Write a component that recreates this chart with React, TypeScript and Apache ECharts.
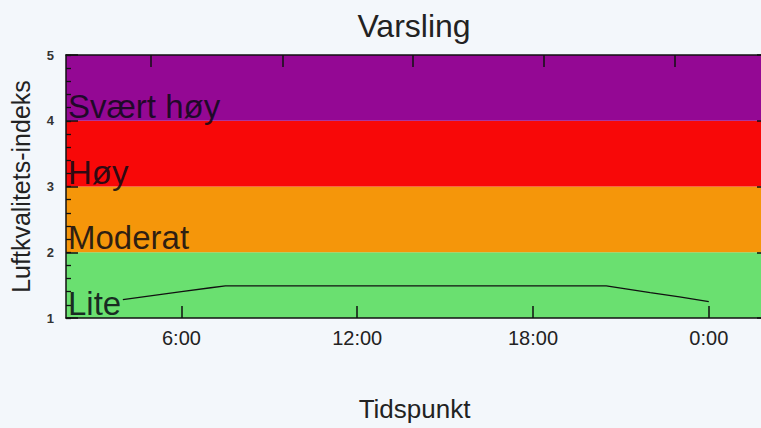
import React, { useEffect, useRef } from "react";
import * as echarts from "echarts";

// Data
const hours = [4, 5, 6, 7, 7.5, 8, 9, 10, 11, 12, 13, 14, 15, 16, 17, 18, 19, 20, 20.5, 21, 22, 23, 24];
const aqi = [1.28, 1.34, 1.4, 1.46, 1.49, 1.49, 1.49, 1.49, 1.49, 1.49, 1.49, 1.49, 1.49, 1.49, 1.49, 1.49, 1.49, 1.49, 1.49, 1.456, 1.387, 1.32, 1.25];

const bandLabels = ["Lite", "Moderat", "Høy", "Svært høy"];
const bandLower = [1, 2, 3, 4];
const bandUpper = [2, 3, 4, 5];
const bandColors = ["#6ae070", "#f5960a", "#f80808", "#940894"];

const xTickHours = [6, 12, 18, 24];
const topTickHours = [4.94, 9.45, 13.91, 18.37, 22.85];
const xMin = 2.06;
const xMax = 25.85;

const fmtHour = (v: number) => `${Math.round(v) % 24}:00`;

export default function App() {
  const ref = useRef<HTMLDivElement>(null);
  useEffect(() => {
    if (!ref.current) return;
    const chart = echarts.init(ref.current, undefined, { renderer: "svg" });
    const font = "'Liberation Sans', Arial, sans-serif";
    chart.setOption({
      animation: false,
      backgroundColor: "#f3f7fb",
      textStyle: { fontFamily: font },
      title: {
        text: "Varsling",
        left: "center",
        top: 5,
        textStyle: { fontSize: 32, fontWeight: "normal", color: "#222", fontFamily: font },
      },
      grid: { left: 61, top: 55, width: 702, height: 263 },
      xAxis: [
        {
          type: "value",
          min: xMin,
          max: xMax,
          position: "bottom",
          z: 10,
          name: "Tidspunkt",
          nameLocation: "middle",
          nameGap: 78,
          nameTextStyle: { fontSize: 26, color: "#222", fontFamily: font },
          axisLine: { show: true, lineStyle: { color: "#111", width: 1.5 } },
          axisTick: { show: true, inside: true, length: 12, customValues: xTickHours, lineStyle: { color: "#111", width: 1.5 } },
          axisLabel: { customValues: xTickHours, formatter: fmtHour, fontSize: 20, color: "#222", margin: 10, fontFamily: font },
          splitLine: { show: false },
        },
        {
          type: "value",
          min: xMin,
          max: xMax,
          position: "top",
          z: 10,
          axisLine: { show: true, onZero: false, lineStyle: { color: "#111", width: 1.5 } },
          axisTick: { show: true, inside: true, length: 12, customValues: topTickHours, lineStyle: { color: "#111", width: 1.5 } },
          axisLabel: { show: false },
          splitLine: { show: false },
        },
      ],
      yAxis: [
        {
          type: "value",
          min: 1,
          max: 5,
          interval: 1,
          position: "left",
          z: 10,
          name: "Luftkvalitets-indeks",
          nameLocation: "middle",
          nameGap: 33,
          nameTextStyle: { fontSize: 25, color: "#222", fontFamily: font },
          axisLine: { show: true, onZero: false, lineStyle: { color: "#111", width: 1.5 } },
          axisTick: { show: true, inside: true, length: 12, lineStyle: { color: "#111", width: 1.5 } },
          axisLabel: { fontSize: 13, fontWeight: "bold", color: "#333", margin: 12, fontFamily: font },
          splitLine: { show: false },
        },
        {
          type: "value",
          min: 1,
          max: 5,
          interval: 1,
          position: "right",
          z: 10,
          axisLine: { show: true, onZero: false, lineStyle: { color: "#111", width: 1.5 } },
          axisTick: { show: true, inside: true, length: 6, lineStyle: { color: "#111", width: 1.5 } },
          axisLabel: { show: false },
          splitLine: { show: false },
        },
        {
          type: "value",
          min: 1,
          max: 5,
          interval: 0.2,
          position: "left",
          offset: 0,
          z: 11,
          axisLine: { show: false, onZero: false },
          axisTick: { show: true, inside: true, length: 5, lineStyle: { color: "#111", width: 1.3 } },
          axisLabel: { show: false },
          splitLine: { show: false },
        },
      ],
      series: [
        {
          type: "line",
          xAxisIndex: 0,
          yAxisIndex: 0,
          data: hours.map((h, i) => [h, aqi[i]]),
          showSymbol: false,
          lineStyle: { color: "#111", width: 1.3 },
          z: 5,
          markArea: {
            silent: true,
            data: bandLabels.map((lab, i) => [
              {
                name: lab,
                yAxis: bandLower[i],
                itemStyle: { color: bandColors[i] },
                label: {
                  show: true,
                  position: "insideBottomLeft",
                  distance: 2,
                  offset: [0, 4],
                  fontSize: 33,
                  color: "rgba(10,10,20,0.85)",
                  fontFamily: font,
                },
              },
              { yAxis: bandUpper[i] },
            ]),
          },
        },
      ],
    });
    return () => chart.dispose();
  }, []);
  return (
    <div style={{ position: "fixed", left: 0, top: 0, width: 761, height: 428, overflow: "hidden", background: "#f3f7fb" }}>
      <div ref={ref} style={{ width: 828, height: 428 }} />
    </div>
  );
}
